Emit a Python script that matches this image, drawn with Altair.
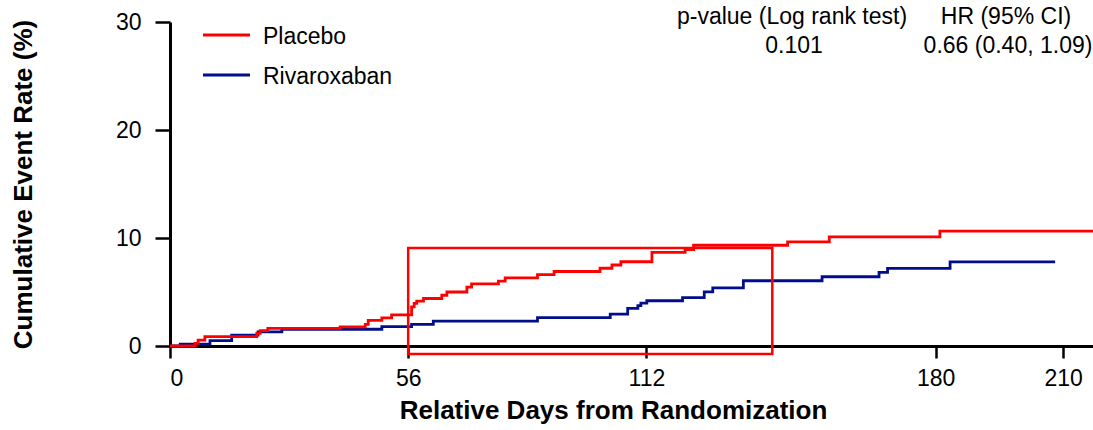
import altair as alt
import pandas as pd

# ---- data ----
placebo_days = [0, 5.9, 6.6, 8.2, 20.4, 21.2, 23.0, 40.0, 45.9, 46.6, 49.8, 52.1, 56.8, 57.4, 58.0,
                59.6, 63.9, 65.1, 69.8, 70.9, 77.2, 78.8, 86.4, 90.3, 101.1, 103.9, 106.0, 113.3,
                121.1, 123.1, 145.2, 155.0, 181.0, 217.0]
placebo_rate = [0, 0.25, 0.55, 0.86, 1.17, 1.42, 1.63, 1.78, 2.0, 2.37, 2.6, 2.88, 3.63, 3.94, 4.15,
                4.4, 4.7, 5.0, 5.46, 5.76, 6.0, 6.3, 6.6, 6.9, 7.2, 7.5, 7.8, 8.66,
                8.93, 9.33, 9.64, 10.1, 10.63, 10.63]

riva_days = [0, 2.4, 9.4, 14.5, 20.7, 26.3, 49.8, 56.8, 61.9, 86.4, 103.5, 107.6, 110.0, 110.7,
             112.1, 120.5, 125.6, 127.6, 134.8, 153.3, 166.7, 168.7, 183.4, 208.1]
riva_rate = [0, 0.16, 0.5, 1.0, 1.3, 1.55, 1.8, 2.0, 2.3, 2.62, 2.96, 3.48, 3.73, 3.97,
             4.19, 4.47, 5.02, 5.39, 6.04, 6.41, 6.81, 7.18, 7.79, 7.79]

series_names = ["Placebo", "Rivaroxaban"]
series_colors = ["#FF0000", "#000E8C"]

x_ticks = [0, 56, 112, 180, 210]
y_ticks = [0, 10, 20, 30]

box_days = [56, 141.6]
box_rate = [-0.75, 9.07]

stat_headers = ["p-value (Log rank test)", "HR (95% CI)"]
stat_values = ["0.101", "0.66 (0.40, 1.09)"]

FONT = "Liberation Sans"

df_p = pd.DataFrame({"day": placebo_days, "rate": placebo_rate, "group": series_names[0]})
df_r = pd.DataFrame({"day": riva_days, "rate": riva_rate, "group": series_names[1]})

xscale = alt.Scale(domain=[0, 217], nice=False, zero=False)
yscale = alt.Scale(domain=[0, 30], nice=False)

xaxis = alt.Axis(values=x_ticks, title="Relative Days from Randomization", grid=False,
                 domainColor="black", domainWidth=3, tickColor="black", tickWidth=2.5, tickSize=12,
                 labelFontSize=23, labelColor="black", labelPadding=9, labelFont=FONT,
                 titleFontSize=26, titleFontWeight="bold", titleColor="black", titleFont=FONT,
                 titleX=443, titleY=64, titleBaseline="middle", titleAlign="center")
yaxis = alt.Axis(values=y_ticks, title="Cumulative Event Rate (%)", grid=False,
                 domainColor="black", domainWidth=3, tickColor="black", tickWidth=2.5, tickSize=15,
                 labelFontSize=23, labelColor="black", labelPadding=14, labelFont=FONT,
                 titleFontSize=26, titleFontWeight="bold", titleColor="black", titleFont=FONT,
                 titleX=-147, titleY=162, titleBaseline="middle", titleAlign="center", titleAngle=-90)

def curve(df, color):
    return alt.Chart(df).mark_line(interpolate="step-after", strokeWidth=2.8, color=color).encode(
        x=alt.X("day:Q", scale=xscale, axis=xaxis),
        y=alt.Y("rate:Q", scale=yscale, axis=yaxis),
    )

blue = curve(df_r, series_colors[1])
red = curve(df_p, series_colors[0])

box_df = pd.DataFrame({"x0": [box_days[0]], "x1": [box_days[1]], "y0": [box_rate[0]], "y1": [box_rate[1]]})
box = alt.Chart(box_df).mark_rect(fillOpacity=0, stroke="#FF0000", strokeWidth=2.5).encode(
    x=alt.X("x0:Q", scale=xscale), x2="x1:Q",
    y=alt.Y("y0:Q", scale=yscale), y2="y1:Q",
)

layers = [blue, red, box]

# legend
for name, color, ypix in zip(series_names, series_colors, [13, 53]):
    ldf = pd.DataFrame({"label": [name]})
    layers.append(alt.Chart(ldf).mark_rule(color=color, strokeWidth=3).encode(
        x=alt.value(33), x2=alt.value(80), y=alt.value(ypix)))
    layers.append(alt.Chart(ldf).mark_text(align="left", baseline="middle", fontSize=23, font=FONT,
                                           color="black").encode(
        x=alt.value(93), y=alt.value(ypix + 2), text="label:N"))

# statistics annotation
for header, value, xpix in zip(stat_headers, stat_values, [622, 836]):
    sdf = pd.DataFrame({"h": [header], "v": [value]})
    layers.append(alt.Chart(sdf).mark_text(align="center", baseline="middle", fontSize=23, font=FONT,
                                           color="black").encode(
        x=alt.value(xpix), y=alt.value(-5), text="h:N"))
    layers.append(alt.Chart(sdf).mark_text(align="center", baseline="middle", fontSize=23, font=FONT,
                                           color="black").encode(
        x=alt.value(xpix + 2), y=alt.value(24), text="v:N"))

chart = alt.layer(*layers).properties(
    width=923, height=324,
    autosize=alt.AutoSizeParams(type="none"),
    padding={"left": 170, "top": 22, "right": 0, "bottom": 84},
    background="white",
).configure_view(stroke=None)

chart.save("out.html", embed_options={"renderer": "svg", "actions": False})
